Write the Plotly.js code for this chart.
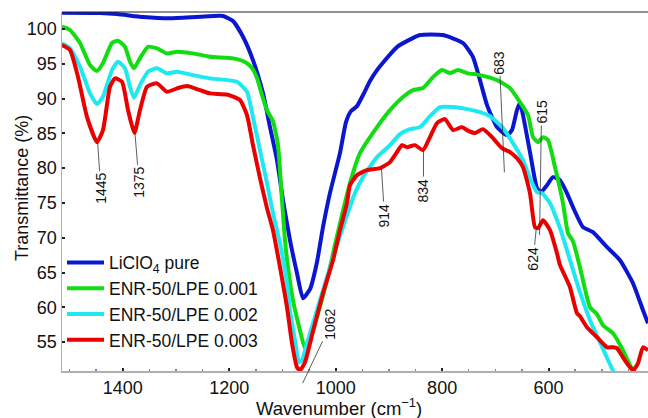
<!DOCTYPE html>
<html>
<head>
<meta charset="utf-8">
<script src="https://cdn.plot.ly/plotly-3.0.1.min.js"></script>
<style>html,body{margin:0;padding:0;background:#fff}#chart{width:648px;height:418px}</style>
</head>
<body>
<div id="chart"></div>
<script>
// LiClO4 pure
var wnBlue = [1514.0,1442.6,1410.7,1361.9,1311.2,1254.8,1211.6,1192.8,1174.0,1155.3,1136.5,1123.3,1110.2,1098.9,1085.8,1072.6,1061.4,1048.2,1035.1,1023.8,1010.7,991.9,980.6,971.2,959.9,948.6,935.5,922.3,884.8,841.6,798.4,760.8,742.0,728.9,715.7,697.0,678.2,668.8,659.4,653.7,648.1,635.0,621.8,614.3,603.0,591.8,578.6,565.5,554.2,535.4,516.7,490.3,465.9,441.5,422.7,413.3];
var tBlue  = [102.34,102.30,102.16,101.73,101.54,101.77,101.87,101.15,98.89,95.54,90.79,85.90,81.15,75.40,69.65,64.90,61.30,62.60,66.48,71.52,76.41,82.16,86.62,88.20,88.92,90.51,92.52,94.10,97.41,99.14,99.14,97.99,95.97,92.66,89.07,85.90,84.75,85.47,88.35,89.35,87.63,82.31,77.13,76.55,77.56,78.71,78.28,76.41,74.39,71.52,70.80,68.64,66.77,63.46,59.58,57.71];
// ENR-50/LPE 0.001
var wnGreen = [1514.0,1499.0,1480.2,1461.4,1448.3,1437.0,1420.1,1408.8,1395.7,1386.3,1378.8,1367.5,1352.5,1335.6,1316.8,1298.0,1268.0,1236.0,1192.8,1170.3,1157.1,1147.7,1138.4,1129.0,1117.7,1108.3,1100.8,1095.2,1089.5,1080.1,1067.0,1057.6,1048.2,1035.1,1016.3,997.5,973.1,954.3,922.3,897.9,873.5,854.7,835.9,817.1,800.3,785.3,770.2,753.3,728.9,697.0,672.5,653.7,638.7,629.3,619.9,610.5,601.1,588.0,573.0,563.6,554.2,541.1,522.3,509.1,497.8,479.1,460.3,447.1,437.8,413.3];
var tGreen  = [100.33,99.86,97.99,94.82,93.96,95.11,97.99,98.32,97.45,95.30,94.35,95.83,97.45,97.22,96.50,96.73,96.50,96.02,95.78,95.25,94.39,92.95,90.51,88.35,86.76,83.31,75.40,69.65,65.76,61.01,56.70,54.11,55.26,58.57,63.89,70.22,77.85,82.16,85.90,88.35,90.22,91.23,91.51,93.09,94.10,93.67,94.10,93.67,93.38,92.66,91.51,89.50,87.63,84.46,83.74,84.46,84.03,80.15,74.97,70.65,69.50,65.76,60.01,59.00,57.42,56.27,53.82,51.67,50.66,49.80];
// ENR-50/LPE 0.002
var wnCyan = [1514.0,1499.0,1480.2,1461.4,1448.3,1437.0,1420.1,1408.8,1395.7,1386.3,1378.8,1367.5,1352.5,1335.6,1316.8,1298.0,1268.0,1236.0,1185.3,1166.5,1155.3,1142.1,1129.0,1117.7,1104.5,1091.4,1085.8,1076.4,1068.9,1063.2,1053.9,1035.1,1016.3,997.5,978.7,963.7,948.6,922.3,897.9,879.1,860.4,841.6,822.8,804.1,779.6,753.3,728.9,710.1,685.7,666.9,648.1,635.0,621.8,612.4,597.4,578.6,559.8,541.1,522.3,503.5,484.7,477.2,447.1,413.3];
var tCyan  = [97.94,97.22,94.58,90.79,89.21,90.26,94.10,95.30,94.35,91.70,90.12,91.94,93.86,94.35,93.63,93.86,93.38,92.91,92.42,90.98,87.34,82.59,77.85,73.53,69.21,63.46,59.57,55.26,52.09,52.38,54.83,59.57,64.32,68.93,73.24,76.41,78.71,81.59,83.31,84.89,85.61,85.90,87.48,88.78,88.78,88.49,88.06,87.48,85.76,83.60,81.15,78.56,76.55,76.41,74.97,71.37,66.77,62.17,58.14,54.97,51.81,50.66,47.30,45.20];
// ENR-50/LPE 0.003
var wnRed = [1514.0,1499.0,1484.0,1467.1,1448.3,1437.0,1423.9,1414.5,1401.3,1390.0,1377.9,1367.5,1354.4,1335.6,1316.8,1298.0,1279.2,1254.8,1236.0,1204.1,1179.7,1166.5,1155.3,1142.1,1129.0,1117.7,1104.5,1091.4,1082.0,1072.6,1067.0,1057.6,1042.6,1023.8,1005.0,991.9,978.7,973.1,959.9,941.1,916.7,897.9,884.8,875.4,866.0,851.0,835.9,822.8,809.6,794.6,779.6,762.7,753.3,738.3,723.3,704.5,687.6,672.5,659.4,648.1,635.0,625.6,619.9,610.5,597.4,584.3,578.6,565.5,559.8,546.7,541.1,527.9,509.1,490.3,479.1,471.5,460.3,452.8,441.5,432.1,422.7,413.3];
var tRed  = [97.70,96.98,93.14,87.38,83.74,85.47,91.70,92.91,92.42,88.35,85.08,88.35,91.70,92.19,90.98,91.47,91.80,91.22,90.75,90.58,89.79,87.63,83.31,78.56,74.25,71.08,65.76,60.01,54.83,51.38,50.94,52.09,56.55,62.02,66.77,71.08,74.97,77.56,79.00,79.72,80.00,80.87,82.31,83.31,83.02,83.31,82.59,84.46,86.48,87.05,85.47,85.90,85.47,85.04,85.61,84.32,82.88,82.31,81.44,80.15,76.41,71.52,71.37,72.52,71.08,67.78,66.05,63.89,62.88,59.14,58.71,57.13,55.69,54.25,54.25,54.11,52.81,51.95,50.94,51.95,54.25,53.82];

var names = ['LiClO<sub>4</sub> pure','ENR-50/LPE 0.001','ENR-50/LPE 0.002','ENR-50/LPE 0.003'];
var colors = ['#0b16d0','#12dc12','#1ee8f2','#ea0000'];
var xTicks = [1400,1200,1000,800,600];
var yTicks = [55,60,65,70,75,80,85,90,95,100];

// peak labels
var peakText = ['1445','1375','914','834','683','615','624'];
var peakX    = [1447,1377,914,835,683,617,623];
var peakY    = [83.74,85.08,80.0,82.6,79.4,70.4,71.5];
var peakAx   = [3,4,3,0,-5,2,-3];
var peakAy   = [46,49,47,40,-110,-123,31];

var xs = [wnBlue,wnGreen,wnCyan,wnRed];
var ys = [tBlue,tGreen,tCyan,tRed];
var traces = xs.map(function(x,i){
  return {x:x, y:ys[i], type:'scatter', mode:'lines', name:names[i],
    line:{color:colors[i], width:4, shape:'spline', smoothing:0.5}};
});

var FONT = 'Liberation Sans, Arial, Helvetica, sans-serif';
var anns = peakText.map(function(t,i){
  return {x:peakX[i], y:peakY[i], xref:'x', yref:'y', text:t, textangle:-90,
    showarrow:true, arrowhead:0, arrowwidth:0.8, arrowcolor:'#333', standoff:0,
    ax:peakAx[i], ay:peakAy[i], font:{family:FONT, size:14, color:'#111'}};
});
anns.push({x:1062, y:-0.034, xref:'x', yref:'paper', text:'1062', textangle:-90,
  showarrow:true, arrowhead:0, arrowwidth:0.8, arrowcolor:'#333', standoff:0,
  ax:28, ay:-59, font:{family:FONT, size:14, color:'#111'}});
anns.push({x:0.4727, y:-0.10, xref:'paper', yref:'paper', text:'Wavenumber (cm<sup>−1</sup>)',
  showarrow:false, xanchor:'center', yanchor:'middle', font:{family:FONT, size:18.5, color:'#111'}});
anns.push({x:-0.068, y:0.51, xref:'paper', yref:'paper', text:'Transmittance (%)', textangle:-90,
  showarrow:false, xanchor:'center', yanchor:'middle', font:{family:FONT, size:18, color:'#111'}});

var layout = {
  width:648, height:418,
  margin:{l:62, r:0, t:12, b:47, pad:0},
  paper_bgcolor:'#fff', plot_bgcolor:'#fff',
  font:{family:FONT, size:18, color:'#111'},
  showlegend:true,
  legend:{x:0.0, y:0.352, xanchor:'left', yanchor:'top', bgcolor:'rgba(0,0,0,0)',
    font:{family:FONT, size:17.5, color:'#111'}, itemwidth:37, tracegroupgap:0},
  xaxis:{range:[1514,413.3], tickvals:xTicks, ticks:'inside', ticklen:3, tickwidth:2, tickcolor:'#222',
    showline:true, linecolor:'#b0b0b0', linewidth:1.5, showgrid:false, zeroline:false,
    tickfont:{family:FONT, size:18, color:'#111'},
    minor:{dtick:50, tick0:0, ticks:'inside', ticklen:2, tickwidth:1.5, tickcolor:'#888', showgrid:false}},
  yaxis:{range:[50.84,102.45], tickvals:yTicks, ticks:'inside', ticklen:3, tickwidth:2, tickcolor:'#222',
    showline:true, linecolor:'#b0b0b0', linewidth:1.5, showgrid:false, zeroline:false,
    tickfont:{family:FONT, size:18, color:'#111'}},
  shapes:[{type:'line', xref:'paper', yref:'paper', x0:0, x1:1, y0:1, y1:1, line:{color:'#222', width:1.2}}],
  annotations:anns
};
Plotly.newPlot('chart', traces, layout, {displayModeBar:false, staticPlot:true});
</script>
</body>
</html>
